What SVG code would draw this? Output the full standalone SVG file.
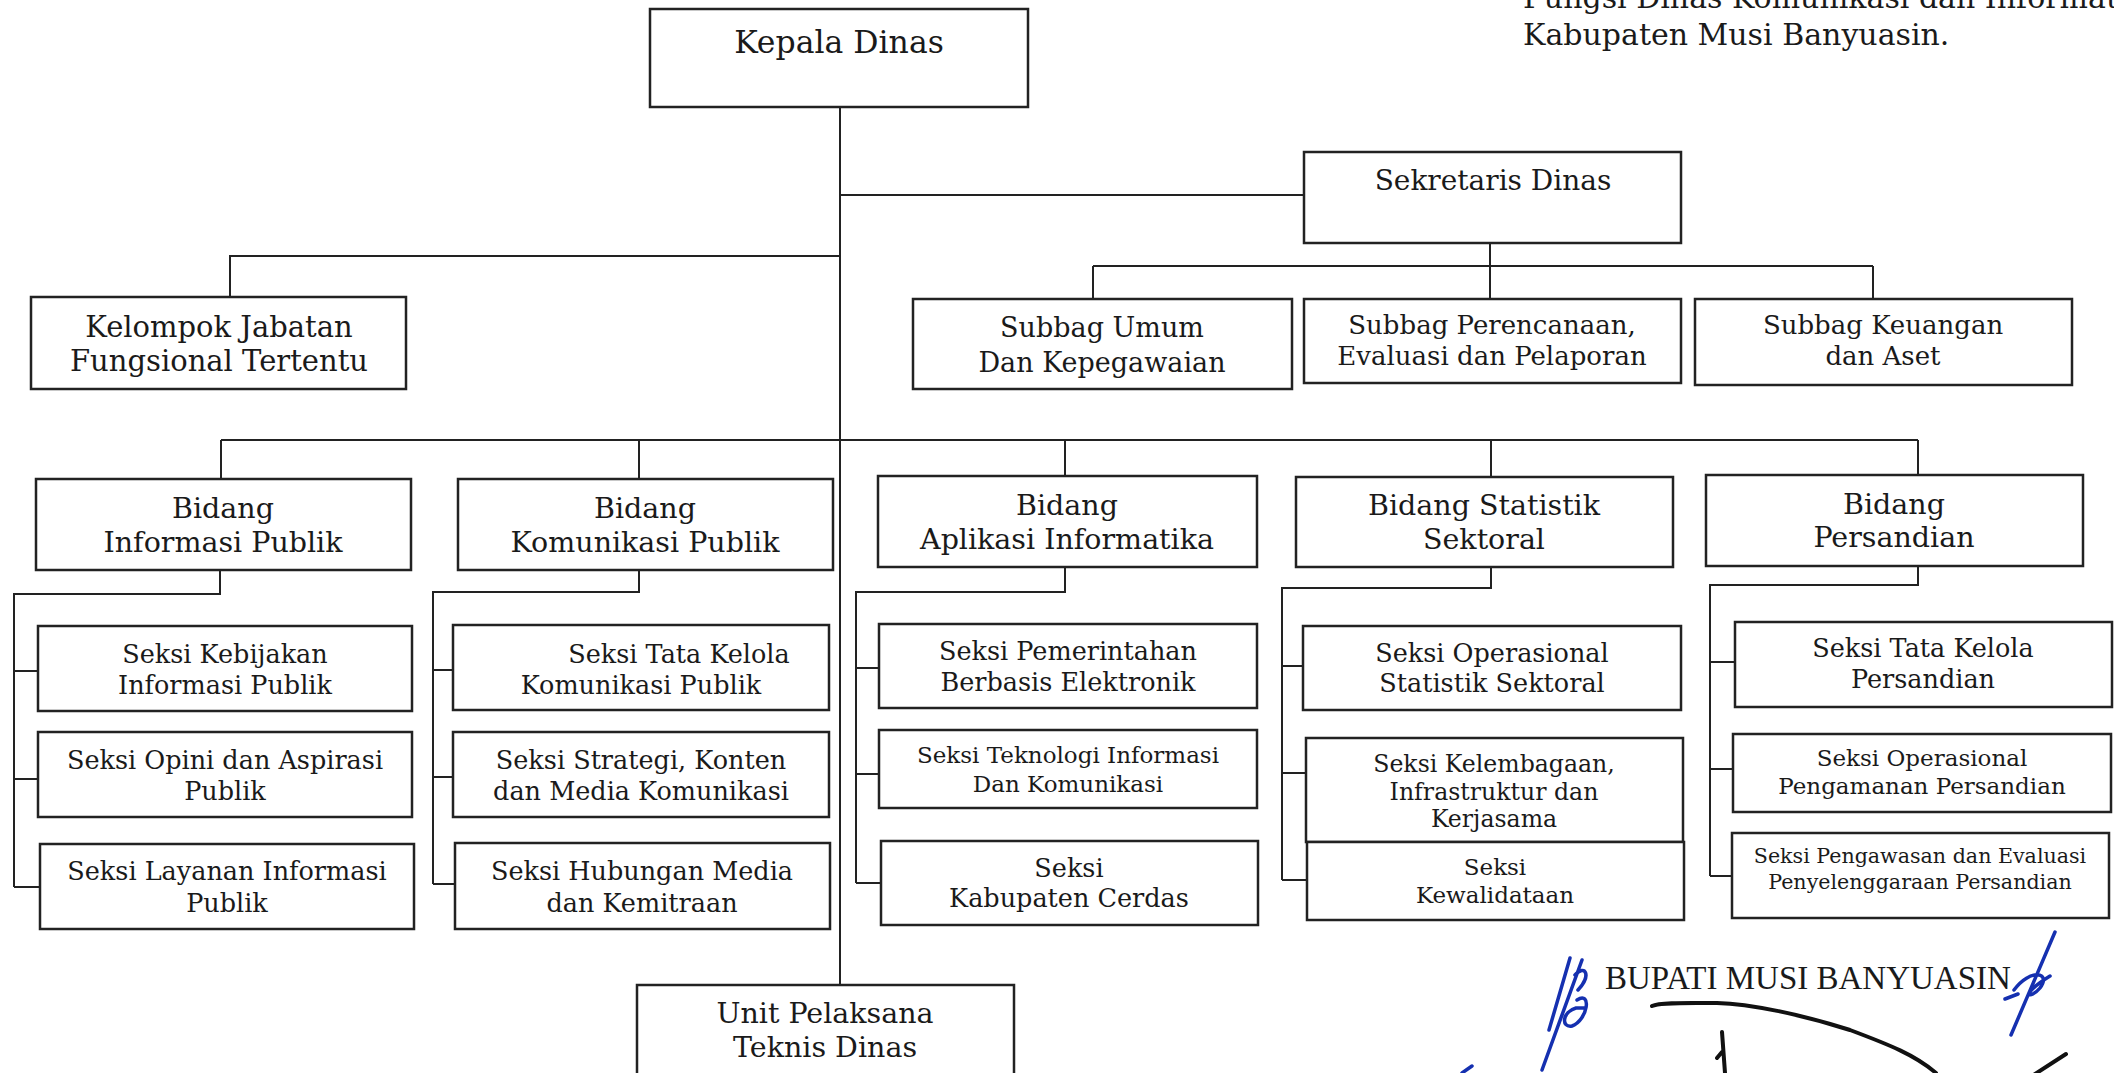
<svg xmlns="http://www.w3.org/2000/svg" width="2114" height="1073" viewBox="0 0 2114 1073">
<style>
.box{fill:#fff;stroke:#222;stroke-width:2.5}
.ln{fill:none;stroke:#222;stroke-width:2}
text{font-family:"DejaVu Serif","Liberation Serif",serif;fill:#1a1a1a;text-anchor:middle}
.t31{font-size:31.5px}.t28{font-size:28px}.t29{font-size:29px}.tb{font-size:28.5px}.t27{font-size:27px}.t26{font-size:26px}.t25{font-size:25.5px}.t23{font-size:23px}.t235{font-size:23.6px}.t20{font-size:20.6px}
.hdr{font-size:30px;text-anchor:start}
.bup{font-family:"Liberation Serif",serif;font-size:33px;text-anchor:start}
.blue{fill:none;stroke:#1530b0;stroke-width:3.5;stroke-linecap:round;stroke-linejoin:round}
.sig{fill:none;stroke:#111;stroke-width:4;stroke-linecap:round}
</style>
<rect width="2114" height="1073" fill="#fff"/>
<g id="header">
<text class="hdr" x="1523" y="8">Fungsi Dinas Komunikasi dan Informatika</text>
<text class="hdr" x="1523" y="45">Kabupaten Musi Banyuasin.</text>
</g>
<g id="connectors">
<path class="ln" d="M840,107V985M840,195H1304M840,256H230V297"/>
<path class="ln" d="M1490,243V266M1093,266H1873M1093,266V299M1490,266V299M1873,266V299"/>
<path class="ln" d="M221,440H1918M221,440V479M639,440V479M1065,440V476M1491,440V477M1918,440V475"/>
<path class="ln" d="M220,570V594H14V887M14,671H38M14,779H38M14,887H40"/>
<path class="ln" d="M639,570V592H433V884M433,670H453M433,777H453M433,884H455"/>
<path class="ln" d="M1065,567V592H856V883M856,668H879M856,774H879M856,883H881"/>
<path class="ln" d="M1491,567V588H1282V880M1282,666H1303M1282,773H1306M1282,880H1307"/>
<path class="ln" d="M1918,566V585H1710V876M1710,662H1735M1710,769H1733M1710,876H1732"/>
</g>
<g id="kepala"><rect class="box" x="650" y="9" width="378" height="98"/><text class="t31" x="839" y="53">Kepala Dinas</text></g>
<g id="sekretaris"><rect class="box" x="1304" y="152" width="377" height="91"/><text class="t28" x="1493" y="190">Sekretaris Dinas</text></g>
<g id="kelompok"><rect class="box" x="31" y="297" width="375" height="92"/><text class="t29" x="219" y="337">Kelompok Jabatan</text><text class="t29" x="219" y="371">Fungsional Tertentu</text></g>
<g id="subbag-umum"><rect class="box" x="913" y="299" width="379" height="90"/><text class="t27" x="1102" y="337">Subbag Umum</text><text class="t27" x="1102" y="372">Dan Kepegawaian</text></g>
<g id="subbag-perencanaan"><rect class="box" x="1304" y="299" width="377" height="84"/><text class="t26" x="1492" y="334">Subbag Perencanaan,</text><text class="t26" x="1492" y="365">Evaluasi dan Pelaporan</text></g>
<g id="subbag-keuangan"><rect class="box" x="1695" y="299" width="377" height="86"/><text class="t26" x="1883" y="334">Subbag Keuangan</text><text class="t26" x="1883" y="365">dan Aset</text></g>
<g id="bidang-informasi"><rect class="box" x="36" y="479" width="375" height="91"/><text class="tb" x="223" y="518">Bidang</text><text class="tb" x="223" y="552">Informasi Publik</text></g>
<g id="bidang-komunikasi"><rect class="box" x="458" y="479" width="375" height="91"/><text class="tb" x="645" y="518">Bidang</text><text class="tb" x="645" y="552">Komunikasi Publik</text></g>
<g id="bidang-aplikasi"><rect class="box" x="878" y="476" width="379" height="91"/><text class="tb" x="1067" y="515">Bidang</text><text class="tb" x="1067" y="549">Aplikasi Informatika</text></g>
<g id="bidang-statistik"><rect class="box" x="1296" y="477" width="377" height="90"/><text class="tb" x="1484" y="515">Bidang Statistik</text><text class="tb" x="1484" y="549">Sektoral</text></g>
<g id="bidang-persandian"><rect class="box" x="1706" y="475" width="377" height="91"/><text class="tb" x="1894" y="514">Bidang</text><text class="tb" x="1894" y="547">Persandian</text></g>
<g id="seksi-kebijakan"><rect class="box" x="38" y="626" width="374" height="85"/><text class="t25" x="225" y="663">Seksi Kebijakan</text><text class="t25" x="225" y="694">Informasi Publik</text></g>
<g id="seksi-opini"><rect class="box" x="38" y="732" width="374" height="85"/><text class="t25" x="225" y="769">Seksi Opini dan Aspirasi</text><text class="t25" x="225" y="800">Publik</text></g>
<g id="seksi-layanan"><rect class="box" x="40" y="844" width="374" height="85"/><text class="t25" x="227" y="880">Seksi Layanan Informasi</text><text class="t25" x="227" y="912">Publik</text></g>
<g id="seksi-tata-kelola-kom"><rect class="box" x="453" y="625" width="376" height="85"/><text class="t25" x="679" y="663">Seksi Tata Kelola</text><text class="t25" x="641" y="694">Komunikasi Publik</text></g>
<g id="seksi-strategi"><rect class="box" x="453" y="732" width="376" height="85"/><text class="t25" x="641" y="769">Seksi Strategi, Konten</text><text class="t25" x="641" y="800">dan Media Komunikasi</text></g>
<g id="seksi-hubungan"><rect class="box" x="455" y="843" width="375" height="86"/><text class="t25" x="642" y="880">Seksi Hubungan Media</text><text class="t25" x="642" y="912">dan Kemitraan</text></g>
<g id="seksi-pemerintahan"><rect class="box" x="879" y="624" width="378" height="84"/><text class="t25" x="1068" y="660">Seksi Pemerintahan</text><text class="t25" x="1068" y="691">Berbasis Elektronik</text></g>
<g id="seksi-teknologi"><rect class="box" x="879" y="730" width="378" height="78"/><text class="t23" x="1068" y="763">Seksi Teknologi Informasi</text><text class="t23" x="1068" y="792">Dan Komunikasi</text></g>
<g id="seksi-kabupaten-cerdas"><rect class="box" x="881" y="841" width="377" height="84"/><text class="t25" x="1069" y="877">Seksi</text><text class="t25" x="1069" y="907">Kabupaten Cerdas</text></g>
<g id="seksi-operasional-statistik"><rect class="box" x="1303" y="626" width="378" height="84"/><text class="t25" x="1492" y="662">Seksi Operasional</text><text class="t25" x="1492" y="692">Statistik Sektoral</text></g>
<g id="seksi-kelembagaan"><rect class="box" x="1306" y="738" width="377" height="104"/><text class="t235" x="1494" y="772">Seksi Kelembagaan,</text><text class="t235" x="1494" y="800">Infrastruktur dan</text><text class="t235" x="1494" y="827">Kerjasama</text></g>
<g id="seksi-kewalidataan"><rect class="box" x="1307" y="842" width="377" height="78"/><text class="t23" x="1495" y="875">Seksi</text><text class="t23" x="1495" y="903">Kewalidataan</text></g>
<g id="seksi-tata-kelola-persandian"><rect class="box" x="1735" y="622" width="377" height="85"/><text class="t25" x="1923" y="657">Seksi Tata Kelola</text><text class="t25" x="1923" y="688">Persandian</text></g>
<g id="seksi-operasional-pengamanan"><rect class="box" x="1733" y="734" width="378" height="78"/><text class="t23" x="1922" y="766">Seksi Operasional</text><text class="t23" x="1922" y="794">Pengamanan Persandian</text></g>
<g id="seksi-pengawasan"><rect class="box" x="1732" y="833" width="377" height="85"/><text class="t20" x="1920" y="863">Seksi Pengawasan dan Evaluasi</text><text class="t20" x="1920" y="889">Penyelenggaraan Persandian</text></g>
<g id="unit-pelaksana"><rect class="box" x="637" y="985" width="377" height="100"/><text class="tb" x="825" y="1023">Unit Pelaksana</text><text class="tb" x="825" y="1057">Teknis Dinas</text></g>
<g id="signature">
<text class="bup" x="1605" y="989">BUPATI MUSI BANYUASIN</text>
<path class="blue" d="M1582,960L1542,1070M1570,958L1549,1030M1577,1000C1592,990 1588,1020 1572,1026C1561,1028 1562,1012 1576,1008L1585,1008M1575,975C1585,964 1592,975 1578,990M1462,1073L1472,1066"/>
<path class="blue" d="M2055,932L2011,1035M2014,990C2030,968 2052,972 2040,988C2030,1000 2018,996 2050,976M2005,999L2018,994"/>
<path class="sig" d="M1652,1006C1660,1002 1690,1003 1717,1003C1750,1004 1800,1014 1850,1030C1890,1045 1915,1055 1936,1073M1722,1032L1725,1073M1722,1052L1717,1058M2066,1054L2032,1076"/>
</g>
</svg>
